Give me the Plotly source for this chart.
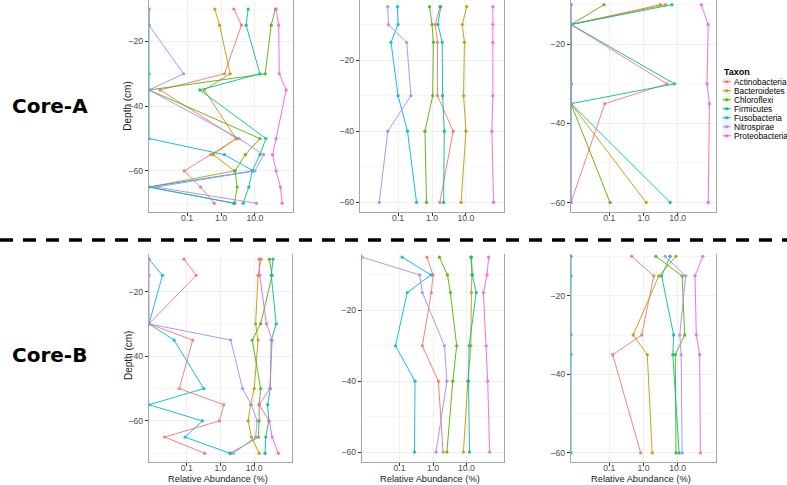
import plotly.graph_objects as go

W, H = 787, 485

TAXA = ["Actinobacteria", "Bacteroidetes", "Chloroflexi", "Firmicutes",
        "Fusobacteria", "Nitrospirae", "Proteobacteria"]
COLOURS = ["#F8766D", "#C49A00", "#53B400", "#00C094", "#00B6EB", "#A58AFF", "#FB61D7"]

# sampled depths (cm) for each column of panels
DEPTHS_LEFT = [-10, -15, -30, -35, -50, -55, -60, -65, -70]
DEPTHS_MID = [-5, -10, -15, -30, -40, -60]
DEPTHS_RIGHT = [-10, -15, -30, -35, -60]

# relative abundance (%), one row per taxon in TAXA order, 0 = not detected
CORE_A_LEFT = [
    [2.4, 4.0, 1.26, 0.016, 2.9, 0.5, 0.083, 0.25, 0.63],
    [0.66, 0.91, 1.86, 0.32, 2.8, 0.59, 2.5, 0, 2.5],
    [40, 30, 20, 0, 14, 5.2, 2.6, 3.0, 2.5],
    [6.3, 5.5, 14, 0.24, 21, 14, 8.3, 6.6, 4.5],
    [0, 0, 0, 0, 0, 1.26, 8.9, 0, 2.4],
    [0, 0, 0.079, 0, 3.4, 18, 10, 0.012, 11],
    [42, 50, 52, 83, 42, 33, 42, 56, 63],
]
CORE_A_MID = [
    [1.7, 1.25, 1.45, 1.45, 4.2, 1.7],
    [10.5, 7.8, 9.0, 8.5, 10, 7.2],
    [0.85, 1.0, 1.1, 1.05, 0.62, 0.69],
    [1.8, 1.5, 2.0, 2.05, 2.3, 2.2],
    [0.096, 0.1, 0.062, 0.1, 0.19, 0.35],
    [0.05, 0.052, 0.18, 0.24, 0.05, 0.028],
    [62, 62, 62, 62, 58, 65],
]
CORE_A_RIGHT = [
    [4.4, 0, 4.9, 0.074, 0],
    [3.1, 0, 0, 0, 1.2],
    [0.07, 0, 0, 0, 0.105],
    [6.8, 0, 8.1, 0, 6.0],
    [0, 0, 0, 0, 0],
    [0, 0, 0, 0, 0],
    [49, 78, 72, 85, 78],
]
CORE_B_LEFT = [
    [0.083, 0.19, 0, 0.15, 0.06, 1.26, 0.93, 0.022, 0.34],
    [16, 13, 11, 13, 10, 7.8, 6.6, 8.3, 14],
    [28, 34, 15.5, 8.7, 15.5, 14, 14, 13.3, 2.0],
    [36, 32, 45, 32, 30, 25, 27, 22, 21],
    [0, 0.019, 0, 0.042, 0.32, 0, 0.29, 0.089, 1.9],
    [0, 0, 0, 2.0, 4.5, 8.2, 12.3, 11, 2.4],
    [14, 14.5, 23, 34, 29, 14, 28, 34, 52],
]
CORE_B_MID = [
    [0.66, 1.0, 0.89, 0.48, 1.45, 2.0],
    [13.5, 14.5, 14, 13.5, 11, 8.1],
    [1.55, 2.7, 3.3, 5.1, 3.9, 2.6],
    [14, 15, 19.5, 12, 11.5, 12.3],
    [0.12, 0.87, 0.17, 0.076, 0.29, 0.28],
    [0, 0.40, 0.48, 2.2, 2.6, 1.23],
    [46, 41, 32, 39, 43, 49],
]
CORE_B_RIGHT = [
    [0.45, 2.0, 0.89, 0.126, 0.83],
    [8.9, 2.8, 0.5, 1.29, 1.8],
    [2.3, 13.5, 16, 8.5, 8.9],
    [6.0, 3.4, 7.6, 7.2, 11],
    [0, 0, 0, 0, 0],
    [4.3, 17, 11.5, 12.6, 13.5],
    [54, 32, 35, 44, 46],
]

X_TICKS = [0.1, 1, 10]
X_TICKTEXT = ["0.1", "1.0", "10.0"]
X_LOG_RANGE = [-2.12, 2.12]

# (data, depths, x pixel span, y pixel span, y range)
PANELS = [
    (CORE_A_LEFT, DEPTHS_LEFT, (149, 293), (0, 212), [-72.7, -7.2]),
    (CORE_A_MID, DEPTHS_MID, (360, 504), (0, 212), [-62.7, -3.1]),
    (CORE_A_RIGHT, DEPTHS_RIGHT, (571, 716), (0, 212), [-62.4, -8.8]),
    (CORE_B_LEFT, DEPTHS_LEFT, (149, 292), (254, 462), [-72.7, -8.4]),
    (CORE_B_MID, DEPTHS_MID, (362, 504), (254, 462), [-62.8, -4.1]),
    (CORE_B_RIGHT, DEPTHS_RIGHT, (571, 716), (254, 462), [-62.3, -9.4]),
]

FONT = "Liberation Sans, Arial, sans-serif"
TICK_GREY = "#4d4d4d"


def px_x(x):
    return x / W


def px_y(y):
    return 1 - y / H


def add_text(fig, x, y, text, font, xanchor="center", angle=0):
    fig.add_annotation(
        x=px_x(x), y=px_y(y), xref="paper", yref="paper",
        xanchor=xanchor, yanchor="middle", textangle=angle,
        text=text, showarrow=False, font=font,
    )


def build_figure():
    fig = go.Figure()
    floor = 10 ** X_LOG_RANGE[0]  # undetected taxa sit on the left edge, like ggplot's -Inf
    layout = {}
    for i, (data, depths, (x0, x1), (y0, y1), yrange) in enumerate(PANELS):
        n = "" if i == 0 else str(i + 1)
        for taxon, colour, values in zip(TAXA, COLOURS, data):
            fig.add_trace(go.Scatter(
                x=[v if v > 0 else floor for v in values], y=depths,
                mode="lines+markers", name=taxon, showlegend=False,
                line=dict(color=colour, width=1.0),
                marker=dict(color=colour, size=3.3),
                opacity=0.9, hoverinfo="skip",
                xaxis="x" + n, yaxis="y" + n,
            ))
        layout["xaxis" + n] = dict(
            domain=[px_x(x0), px_x(x1)], anchor="y" + n, type="log", automargin=False,
            range=X_LOG_RANGE, tickvals=X_TICKS, ticktext=X_TICKTEXT,
            ticks="outside", ticklen=3, tickcolor="#333333", ticklabelstandoff=-6,
            tickfont=dict(size=8.7, color=TICK_GREY, family=FONT),
            showgrid=True, gridcolor="#f0f0f0", gridwidth=0.7, zeroline=False,
            showline=True, linecolor="#a6a6a6", linewidth=1.3,
        )
        layout["yaxis" + n] = dict(
            domain=[px_y(y1), px_y(y0)], anchor="x" + n, range=yrange, automargin=False,
            tickvals=[-20, -40, -60], ticks="outside", ticklen=3, tickcolor="#333333",
            tickfont=dict(size=8.7, color=TICK_GREY, family=FONT),
            showgrid=True, gridcolor="#f0f0f0", gridwidth=0.7, zeroline=False,
            minor=dict(showgrid=True, gridcolor="#f7f7f7", dtick=10, tick0=0),
            showline=True, linecolor="#a6a6a6", linewidth=1.3, mirror=True,
        )
        if i >= 3:
            add_text(fig, (x0 + x1) / 2 - 3, 479, "Relative Abundance (%)",
                     dict(size=9.3, color="#222222", family=FONT))
    fig.update_layout(**layout)

    # y titles on the left-hand panels
    for yc in [106.7, 356]:
        add_text(fig, 128, yc, "Depth (cm)",
                 dict(size=10, color="#222222", family=FONT), angle=-90)

    # core labels
    for label, yc in [("Core-A", 105.7), ("Core-B", 355)]:
        add_text(fig, 49.5, yc, label,
                 dict(size=20, color="black", family="DejaVu Sans", weight="bold"))

    # dashed separator between cores
    fig.add_shape(type="line", xref="paper", yref="paper",
                  x0=0, x1=1, y0=px_y(240), y1=px_y(240),
                  line=dict(color="black", width=3.5, dash="13px,10px"))

    # legend drawn by hand so the rows stay tight
    add_text(fig, 722, 71.7, "Taxon",
             dict(size=9, color="black", family=FONT, weight="bold"), xanchor="left")
    for k, (taxon, colour) in enumerate(zip(TAXA, COLOURS)):
        yk = 81.7 + 9 * k
        fig.add_shape(type="rect", xref="paper", yref="paper",
                      x0=px_x(722.5), x1=px_x(731), y0=px_y(yk - 4.3), y1=px_y(yk + 4.3),
                      line=dict(color="#ffffff", width=0.5), fillcolor="#f2f2f2", layer="below")
        fig.add_shape(type="line", xref="paper", yref="paper",
                      x0=px_x(723), x1=px_x(730.5), y0=px_y(yk), y1=px_y(yk),
                      line=dict(color=colour, width=1.1))
        fig.add_shape(type="circle", xref="paper", yref="paper",
                      x0=px_x(725.5), x1=px_x(728), y0=px_y(yk - 1.25), y1=px_y(yk + 1.25),
                      line=dict(color=colour, width=0.5), fillcolor=colour)
        add_text(fig, 731.5, yk, taxon,
                 dict(size=8.3, color="black", family=FONT), xanchor="left")

    fig.update_layout(
        width=W, height=H, margin=dict(l=0, r=0, t=0, b=0, autoexpand=False),
        paper_bgcolor="white", plot_bgcolor="white", showlegend=False,
    )
    return fig


if __name__ == "__main__":
    fig = build_figure()
    # the default page body has an 8px margin, drop it so the figure sits at the corner
    fig.write_html("out.html", config={"displayModeBar": False},
                   post_script="document.body.style.margin = '0';")
